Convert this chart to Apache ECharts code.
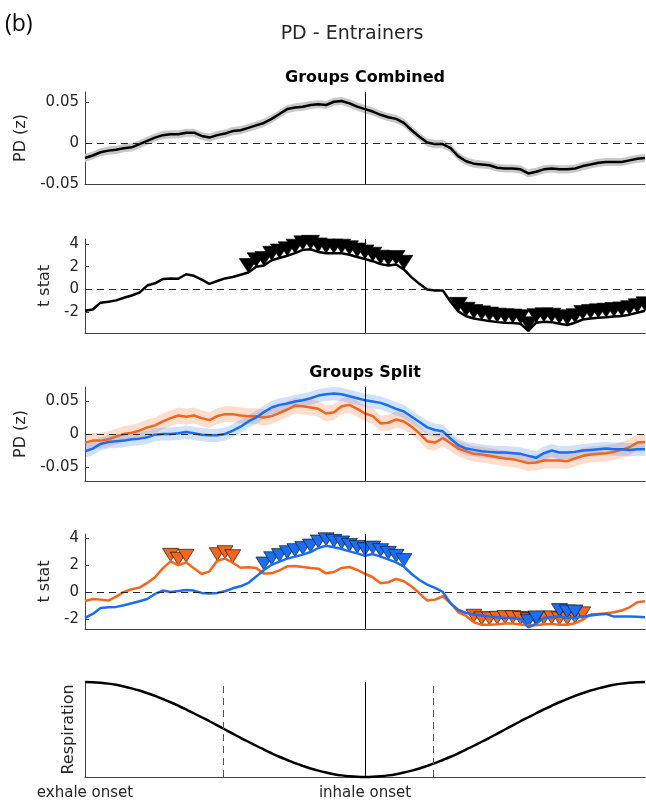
<!DOCTYPE html>
<html>
<head>
<meta charset="utf-8">
<script src="https://cdn.jsdelivr.net/npm/echarts@6/dist/echarts.min.js"></script>
<style>
    html, body { margin: 0; padding: 0; background: #fff; }
    #chart { width: 646px; height: 803px; }
</style>
</head>
<body>
<div id="chart"></div>
<script>
// respiratory phase in degrees (0 = exhale onset, 180 = inhale onset)
var phase = [0, 5, 10, 15, 20, 25, 30, 35, 40, 45, 50, 55, 60, 65, 70, 75, 80, 85, 90, 95,
    100, 105, 110, 115, 120, 125, 130, 135, 140, 145, 150, 155, 160, 165, 170, 175, 180, 185, 190, 195,
    200, 205, 210, 215, 220, 225, 230, 235, 240, 245, 250, 255, 260, 265, 270, 275, 280, 285, 290, 295,
    300, 305, 310, 315, 320, 325, 330, 335, 340, 345, 350, 355, 360];
var phaseLabels = { 0: 'exhale onset', 180: 'inhale onset' };
var inhaleOnset = 180;
var dashedMarks = [89, 224];

// groups combined
var pdCombined = [-0.018, -0.015, -0.011, -0.009, -0.008, -0.006, -0.005, -0.001, 0.003, 0.007,
    0.010, 0.011, 0.011, 0.013, 0.013, 0.009, 0.007, 0.010, 0.012, 0.015,
    0.016, 0.019, 0.022, 0.025, 0.030, 0.036, 0.042, 0.044, 0.045, 0.047,
    0.048, 0.047, 0.051, 0.052, 0.049, 0.045, 0.042, 0.039, 0.035, 0.032,
    0.030, 0.025, 0.016, 0.008, 0.001, -0.001, -0.001, -0.006, -0.016, -0.022,
    -0.025, -0.026, -0.027, -0.030, -0.031, -0.031, -0.032, -0.037, -0.035, -0.032,
    -0.031, -0.032, -0.032, -0.031, -0.028, -0.026, -0.024, -0.023, -0.023, -0.023,
    -0.021, -0.019, -0.018];
var semCombined = 0.005;
var tCombined = [-1.89, -1.77, -1.17, -1.09, -0.97, -0.74, -0.54, -0.29, 0.34, 0.54,
    0.91, 0.97, 0.94, 1.34, 1.2, 0.86, 0.49, 0.74, 0.97, 1.09,
    1.29, 1.49, 2.0, 2.11, 2.57, 2.77, 2.97, 3.2, 3.49, 3.54,
    3.31, 3.2, 3.2, 3.2, 3.06, 2.86, 2.69, 2.49, 2.23, 2.11,
    2.2, 1.77, 1.06, 0.49, 0.0, -0.09, -0.09, -1.09, -1.94, -2.37,
    -2.57, -2.69, -2.8, -2.89, -2.94, -2.97, -3.03, -3.66, -2.94, -2.86,
    -2.89, -3.03, -3.14, -2.94, -2.66, -2.57, -2.51, -2.46, -2.4, -2.34,
    -2.23, -2.06, -1.89];
var sigCombined = [[105, 205], [240, 360]];

// groups split
var pdOrange = [-0.013, -0.010, -0.010, -0.008, -0.004, 0.000, 0.002, 0.005, 0.010, 0.013,
    0.019, 0.024, 0.028, 0.026, 0.028, 0.024, 0.021, 0.027, 0.030, 0.030,
    0.028, 0.027, 0.027, 0.025, 0.027, 0.032, 0.037, 0.043, 0.042, 0.040,
    0.038, 0.031, 0.033, 0.042, 0.044, 0.038, 0.031, 0.027, 0.016, 0.017,
    0.022, 0.019, 0.011, 0.001, -0.011, -0.013, -0.006, -0.014, -0.022, -0.026,
    -0.030, -0.031, -0.033, -0.035, -0.037, -0.038, -0.041, -0.044, -0.043, -0.040,
    -0.040, -0.040, -0.041, -0.037, -0.033, -0.031, -0.030, -0.029, -0.027, -0.024,
    -0.020, -0.013, -0.012];
var pdBlue = [-0.026, -0.022, -0.015, -0.012, -0.011, -0.010, -0.008, -0.007, -0.005, -0.001,
    0.000, 0.000, 0.001, 0.003, 0.001, -0.001, -0.002, -0.002, 0.000, 0.005,
    0.011, 0.019, 0.025, 0.033, 0.040, 0.044, 0.046, 0.049, 0.051, 0.054,
    0.058, 0.060, 0.061, 0.060, 0.057, 0.054, 0.051, 0.049, 0.047, 0.043,
    0.038, 0.034, 0.026, 0.018, 0.010, 0.006, 0.004, -0.007, -0.017, -0.022,
    -0.024, -0.026, -0.027, -0.028, -0.028, -0.029, -0.030, -0.033, -0.036, -0.029,
    -0.025, -0.028, -0.028, -0.027, -0.025, -0.024, -0.023, -0.022, -0.023, -0.023,
    -0.024, -0.023, -0.023];
var semOrange = 0.012;
var semBlue = 0.010;
var tOrange = [-0.67, -0.52, -0.57, -0.64, -0.35, 0.0, 0.2, 0.32, 0.67, 1.09,
    1.75, 2.27, 1.98, 2.2, 1.75, 1.33, 1.53, 2.32, 2.47, 2.17,
    1.8, 1.83, 1.78, 1.36, 1.38, 1.6, 1.9, 1.93, 1.85, 1.78,
    1.73, 1.38, 1.48, 1.78, 1.85, 1.63, 1.35, 1.09, 0.64, 0.72,
    0.96, 0.79, 0.4, -0.1, -0.64, -0.57, -0.32, -0.84, -1.51, -1.78,
    -2.25, -2.44, -2.44, -2.4, -2.35, -2.35, -2.42, -2.49, -2.47, -2.4,
    -2.37, -2.44, -2.44, -2.32, -2.07, -1.68, -1.63, -1.58, -1.51, -1.38,
    -1.14, -0.77, -0.69];
var tBlue = [-1.93, -1.63, -1.19, -1.14, -1.11, -0.99, -0.84, -0.69, -0.52, -0.15,
    0.1, 0.0, 0.07, 0.15, 0.1, -0.07, -0.12, -0.07, 0.05, 0.27,
    0.42, 0.67, 1.14, 1.63, 2.02, 2.25, 2.47, 2.62, 2.77, 2.96,
    3.26, 3.43, 3.31, 3.19, 3.01, 2.86, 2.69, 2.81, 2.62, 2.42,
    2.2, 1.88, 1.33, 0.89, 0.54, 0.3, 0.0, -0.84, -1.33, -1.56,
    -1.68, -1.75, -1.83, -1.88, -1.93, -1.93, -2.0, -2.62, -2.37, -1.93,
    -1.88, -1.83, -1.93, -1.93, -1.83, -1.75, -1.68, -1.63, -1.83, -1.83,
    -1.83, -1.85, -1.88];
var sigOrange = [[55, 65], [85, 95], [250, 320]];
var sigBlue = [[115, 205], [285, 290], [305, 315]];

// respiration trace
var respiration = [1.000, 0.998, 0.992, 0.983, 0.970, 0.953, 0.933, 0.910, 0.883, 0.854,
    0.821, 0.787, 0.750, 0.711, 0.671, 0.629, 0.587, 0.544, 0.500, 0.456,
    0.413, 0.371, 0.329, 0.289, 0.250, 0.213, 0.179, 0.146, 0.117, 0.090,
    0.067, 0.047, 0.030, 0.017, 0.008, 0.002, 0.000, 0.002, 0.008, 0.017,
    0.030, 0.047, 0.067, 0.090, 0.117, 0.146, 0.179, 0.213, 0.250, 0.289,
    0.329, 0.371, 0.413, 0.456, 0.500, 0.544, 0.587, 0.629, 0.671, 0.711,
    0.750, 0.787, 0.821, 0.854, 0.883, 0.910, 0.933, 0.953, 0.970, 0.983,
    0.992, 0.998, 1.000];

var FONT = 'DejaVu Sans';
var TEXT = '#262626';
var AXIS = '#404040';
var ORANGE = '#F2661E';
var BLUE = '#1A6EF2';

function xy(values) {
    return phase.map(function (p, i) { return [p, values[i]]; });
}

function sigPoints(values, ranges) {
    var out = [];
    phase.forEach(function (p, i) {
        ranges.forEach(function (r) {
            if (p >= r[0] && p <= r[1]) out.push([p, values[i]]);
        });
    });
    return out;
}

// shaded error band: one polygon, mean +/- sem, placed through the axes
function bandSeries(values, sem, idx, color) {
    return {
        type: 'custom', xAxisIndex: idx, yAxisIndex: idx, silent: true,
        data: [[inhaleOnset, 0]],
        renderItem: function (params, api) {
            var upper = phase.map(function (p, i) { return api.coord([p, values[i] + sem]); });
            var lower = phase.map(function (p, i) { return api.coord([p, values[i] - sem]); }).reverse();
            return {
                type: 'polygon',
                shape: { points: upper.concat(lower) },
                style: { fill: color }
            };
        }
    };
}

function lineSeries(values, idx, color, width, marks) {
    var s = {
        type: 'line', xAxisIndex: idx, yAxisIndex: idx, symbol: 'none', silent: true,
        lineStyle: { color: color, width: width }, data: xy(values)
    };
    if (marks) {
        s.markLine = { silent: true, symbol: 'none', label: { show: false }, data: marks };
    }
    return s;
}

function markerSeries(values, ranges, idx, color, size) {
    return {
        type: 'scatter', xAxisIndex: idx, yAxisIndex: idx, clip: false, silent: true,
        symbol: 'triangle', symbolRotate: 180, symbolSize: size, symbolOffset: [0, '-50%'],
        itemStyle: { color: color, borderColor: '#000', borderWidth: 0.6, opacity: 1 },
        data: sigPoints(values, ranges)
    };
}

var vLine = { xAxis: inhaleOnset, lineStyle: { color: '#000', width: 1, type: 'solid' } };
var zeroLine = { yAxis: 0, lineStyle: { color: TEXT, width: 1, type: [7, 5] } };

var gridTops = [92, 239, 387, 534, 682];
var gridHeights = [92, 94, 94, 95, 95];

function yAxis(idx, min, max, ticks, name, gap, pd) {
    return {
        type: 'value', gridIndex: idx, min: min, max: max,
        name: name, nameLocation: 'middle', nameGap: gap,
        nameTextStyle: { fontSize: 16, color: TEXT, fontFamily: FONT },
        axisLine: { show: true, onZero: false, lineStyle: { color: AXIS, width: 1 } },
        axisTick: { show: ticks.length > 0, inside: true, length: 4, customValues: ticks, lineStyle: { color: AXIS } },
        axisLabel: {
            show: ticks.length > 0, customValues: ticks, fontSize: 15, color: TEXT, fontFamily: FONT, margin: 6,
            formatter: function (v) { return v === 0 ? '0' : (pd ? v.toFixed(2) : String(v)); }
        },
        splitLine: { show: false }
    };
}

function xAxis(idx) {
    var last = idx === 4;
    return {
        type: 'value', gridIndex: idx, min: 0, max: 360,
        axisLine: { show: true, onZero: false, lineStyle: { color: AXIS, width: 1 } },
        axisTick: { show: false },
        axisLabel: {
            show: last, customValues: [0, 180], fontSize: 15, color: TEXT, fontFamily: FONT, margin: 9,
            formatter: function (v) { return phaseLabels[v] || ''; }
        },
        splitLine: { show: false }
    };
}

var series = [];
// panel 1: PD combined
series.push(bandSeries(pdCombined, semCombined, 0, '#C8C8C8'));
series.push(lineSeries(pdCombined, 0, '#000', 2.5, [vLine, zeroLine]));
// panel 2: t stat combined
series.push(lineSeries(tCombined, 1, '#000', 2.5, [vLine, zeroLine]));
series.push(markerSeries(tCombined, sigCombined, 1, '#000', [18, 14]));
// panel 3: PD split
series.push(bandSeries(pdOrange, semOrange, 2, 'rgba(247,125,60,0.26)'));
series.push(lineSeries(pdOrange, 2, ORANGE, 2.5, [vLine, zeroLine]));
series.push(bandSeries(pdBlue, semBlue, 2, 'rgba(40,120,250,0.22)'));
series.push(lineSeries(pdBlue, 2, BLUE, 2.5));
// panel 4: t stat split
series.push(lineSeries(tOrange, 3, ORANGE, 2.5, [vLine, zeroLine]));
series.push(lineSeries(tBlue, 3, BLUE, 2.5));
series.push(markerSeries(tOrange, sigOrange, 3, ORANGE, [16, 13]));
series.push(markerSeries(tBlue, sigBlue, 3, BLUE, [16, 13]));
// panel 5: respiration
var respSeries = lineSeries(respiration, 4, '#000', 2.5, [
    vLine,
    { xAxis: dashedMarks[0], lineStyle: { color: '#555', width: 1, type: [7, 5] } },
    { xAxis: dashedMarks[1], lineStyle: { color: '#555', width: 1, type: [7, 5] } }
]);
respSeries.smooth = 0.4;
respSeries.clip = false;
series.push(respSeries);

var option = {
    animation: false,
    grid: gridTops.map(function (t, i) {
        return { left: 85, right: 1, top: t, height: gridHeights[i], outerBoundsMode: 'none' };
    }),
    xAxis: [0, 1, 2, 3, 4].map(xAxis),
    yAxis: [
        yAxis(0, -0.05, 0.063, [-0.05, 0, 0.05], 'PD (z)', 52, true),
        yAxis(1, -3.85, 4.45, [-2, 0, 2, 4], 't stat', 28, false),
        yAxis(2, -0.071, 0.071, [-0.05, 0, 0.05], 'PD (z)', 52, true),
        yAxis(3, -2.75, 4.3, [-2, 0, 2, 4], 't stat', 28, false),
        yAxis(4, 0, 1, [], 'Respiration', 8, false)
    ],
    graphic: [
        { type: 'text', x: 5, y: 24, style: { text: '(b)', fontSize: 23, fontFamily: 'Open Sans', fill: '#000', align: 'left', verticalAlign: 'middle' } },
        { type: 'text', x: 352, y: 34, style: { text: 'PD - Entrainers', fontSize: 19, fontFamily: FONT, fill: TEXT, align: 'center', verticalAlign: 'middle' } },
        { type: 'text', x: 365, y: 78, style: { text: 'Groups Combined', fontSize: 16, fontWeight: 'bold', fontFamily: FONT, fill: '#000', align: 'center', verticalAlign: 'middle' } },
        { type: 'text', x: 365, y: 373, style: { text: 'Groups Split', fontSize: 16, fontWeight: 'bold', fontFamily: FONT, fill: '#000', align: 'center', verticalAlign: 'middle' } }
    ],
    series: series
};

var myChart = echarts.init(document.getElementById('chart'));
myChart.setOption(option);
</script>
</body>
</html>
